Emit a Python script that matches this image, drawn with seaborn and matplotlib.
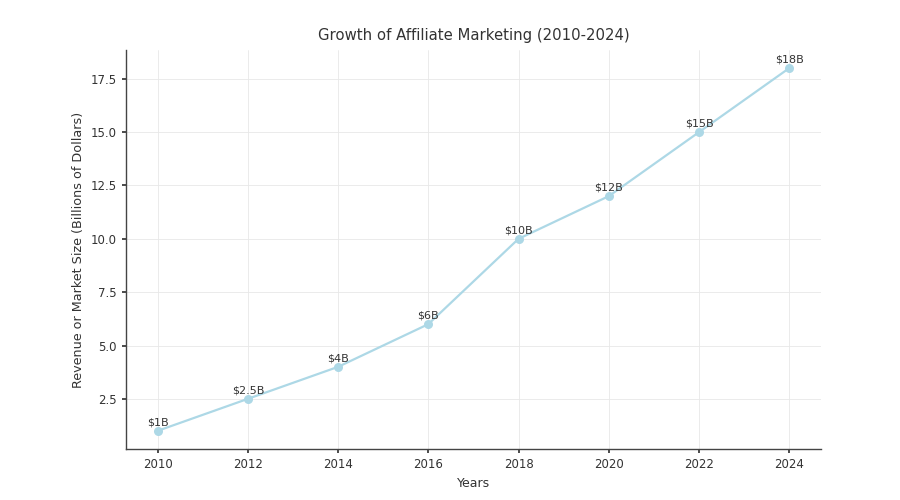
import pandas as pd
import seaborn as sns
import matplotlib.pyplot as plt

years = [2010, 2012, 2014, 2016, 2018, 2020, 2022, 2024]
revenue = [1, 2.5, 4, 6, 10, 12, 15, 18]
labels = ["$1B", "$2.5B", "$4B", "$6B", "$10B", "$12B", "$15B", "$18B"]

df = pd.DataFrame({"Years": years, "Revenue": revenue})

sns.set_theme(style="ticks")
plt.rcParams["font.family"] = ["DejaVu Sans"]

fig, ax = plt.subplots(figsize=(9, 5), dpi=100)
fig.subplots_adjust(left=0.14, right=0.912, bottom=0.102, top=0.9)

sns.lineplot(data=df, x="Years", y="Revenue", marker="o", color="#add8e6",
             linewidth=1.6, markersize=6.5, markeredgewidth=0, ax=ax)

for x, y, t in zip(years, revenue, labels):
    ax.annotate(t, (x, y), textcoords="offset points", xytext=(0, 4),
                ha="center", fontsize=8, color="#333333")

ax.set_xticks(years)
ax.grid(True, color="#e8e8e8", linewidth=0.6)
ax.set_title("Growth of Affiliate Marketing (2010-2024)", fontsize=10.7, color="#333333", pad=7)
ax.set_xlabel("Years", fontsize=9, color="#333333")
ax.set_ylabel("Revenue or Market Size (Billions of Dollars)", fontsize=9.2, color="#333333")
ax.tick_params(labelsize=8.5, colors="#333333", length=3)
for s in ["left", "bottom"]:
    ax.spines[s].set_color("#444444")
    ax.spines[s].set_linewidth(1.0)
sns.despine(ax=ax)

fig.savefig("out.png", dpi=100)
